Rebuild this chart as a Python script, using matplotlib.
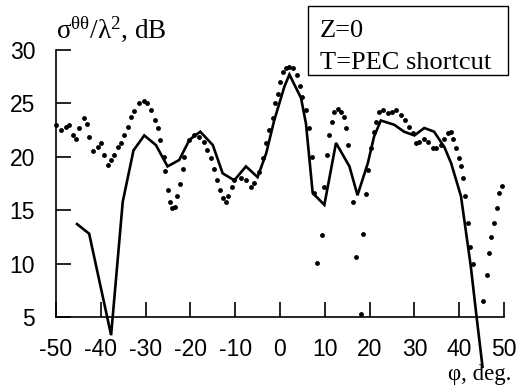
import matplotlib
matplotlib.use("Agg")
import matplotlib.pyplot as plt
from matplotlib.patches import Rectangle

# solid curve
phi_solid = [-45.3, -42.6, -37.7, -35.1, -32.7, -30.3, -27.7, -25.1, -22.5, -20.2,
             -17.8, -15.0, -12.8, -10.2, -7.6, -5.0, -3.1, -1.3, 1.0, 2.1,
             4.7, 5.8, 7.3, 9.9, 12.5, 15.5, 17.3, 19.6, 21.0, 22.5,
             25.5, 27.7, 30.0, 32.2, 34.4, 36.7, 38.2, 40.4, 42.6, 43.8, 45.2]
rcs_solid = [13.7, 12.8, 3.3, 15.8, 20.6, 22.0, 21.1, 19.1, 19.7, 21.6,
             22.35, 21.1, 18.45, 17.8, 19.1, 18.1, 20.3, 23.4, 26.6, 27.7,
             25.5, 23.1, 16.6, 15.5, 21.3, 19.1, 16.4, 19.4, 21.9, 23.4,
             23.0, 22.35, 22.0, 22.7, 22.35, 20.9, 19.4, 16.3, 9.7, 5.3, 0.35]

# dotted curve (single dots)
phi_dots = [-50.0, -48.9, -47.8, -47.0, -46.3, -45.5, -44.8, -43.8, -43.1, -42.6,
            -41.8, -40.7, -40.0, -39.2, -38.5, -37.7, -37.0, -36.2, -35.5, -34.8,
            -34.0, -33.3, -32.5, -31.4, -30.3, -29.6, -28.8, -27.8, -27.3, -26.7,
            -26.0, -25.6, -25.1, -24.6, -24.0, -23.4, -22.9, -22.3, -21.7, -21.4,
            -20.4, -19.1, -18.0, -16.9, -16.2, -15.4, -14.7, -14.1, -13.5, -12.8,
            -12.1, -11.5, -10.8, -10.2, -8.7, -7.6, -6.5, -5.7, -4.6, -3.9,
            -3.1, -2.4, -1.6, -1.1, -0.5, 0.1, 0.6, 1.3, 2.1, 3.0,
            3.7, 4.5, 5.0, 5.8, 6.5, 7.1, 7.7, 8.3, 9.4, 9.9,
            10.4, 11.0, 11.5, 12.1, 12.9, 13.6, 14.2, 14.7, 15.2, 16.4,
            17.0, 18.1, 18.5, 19.1, 19.6, 20.3, 21.0, 21.4, 22.2, 22.9,
            24.0, 25.1, 26.0, 27.0, 27.9, 28.9, 29.6, 30.4, 31.1, 32.1,
            33.1, 34.1, 34.8, 35.9, 36.7, 37.4, 38.2, 38.7, 39.3, 39.9,
            40.4, 40.8, 41.4, 41.9, 42.4, 43.0, 45.3, 46.2, 46.7, 47.2,
            47.8, 48.4, 48.9, 49.5]
rcs_dots = [23.0, 22.5, 22.8, 23.0, 22.0, 21.7, 22.7, 23.6, 23.1, 21.9,
            20.5, 20.9, 21.3, 20.2, 19.2, 19.7, 20.2, 20.9, 21.3, 22.0,
            22.8, 23.75, 24.3, 25.0, 25.2, 25.0, 24.4, 23.4, 22.7, 21.6,
            20.0, 18.7, 16.9, 15.8, 15.2, 15.3, 16.3, 17.45, 18.9, 20.0,
            21.6, 22.0, 21.9, 21.4, 20.6, 19.9, 18.9, 17.8, 16.9, 16.1,
            15.8, 16.3, 17.2, 17.8, 18.0, 17.8, 17.2, 17.5, 18.6, 19.9,
            21.3, 22.5, 23.6, 25.0, 25.9, 27.0, 27.9, 28.3, 28.4, 28.3,
            27.7, 26.6, 25.6, 24.4, 22.7, 20.0, 16.6, 10.1, 12.7, 17.2,
            20.2, 22.0, 23.3, 24.2, 24.5, 24.2, 23.75, 22.7, 21.1, 15.8,
            10.6, 5.25, 12.8, 16.5, 18.8, 20.8, 22.35, 23.3, 24.2, 24.4,
            24.1, 24.2, 24.4, 23.9, 23.4, 22.8, 22.2, 21.3, 21.4, 21.7,
            21.4, 20.8, 20.8, 21.1, 21.7, 22.2, 22.35, 21.7, 20.8, 19.9,
            19.1, 18.0, 16.3, 13.8, 11.6, 10.0, 6.5, 8.9, 11.0, 12.5,
            13.8, 15.2, 16.6, 17.3]

x_ticks = [-50, -40, -30, -20, -10, 0, 10, 20, 30, 40, 50]
y_ticks = [5, 10, 15, 20, 25, 30]

plt.rcParams["axes.unicode_minus"] = False
plt.rcParams["font.family"] = "Liberation Sans"

fig = plt.figure(figsize=(5.29, 3.89), dpi=100)
ax = fig.add_axes([56 / 529, 1 - 317 / 389, 448 / 529, 267 / 389])

ax.plot(phi_solid, rcs_solid, color="black", linewidth=1.9, clip_on=False,
        solid_joinstyle="miter")
ax.plot(phi_dots, rcs_dots, "o", color="black", markersize=3.5,
        markeredgewidth=0, clip_on=False)

ax.set_xlim(-50, 50)
ax.set_ylim(5, 30)
ax.set_xticks(x_ticks)
ax.set_yticks(y_ticks)
ax.set_xticklabels([str(v) for v in x_ticks])
ax.set_yticklabels([str(v) for v in y_ticks])

for side in ["top", "right"]:
    ax.spines[side].set_visible(False)
for side in ["left", "bottom"]:
    ax.spines[side].set_linewidth(1.2)

ax.tick_params(axis="both", direction="in", length=11, width=1.2,
               labelsize=16.5, colors="black")
ax.tick_params(axis="x", pad=15)
ax.tick_params(axis="y", pad=15)

# axis captions
ax.text(0.0, 1.045, r"$\mathregular{\sigma^{\theta\theta}/\lambda^2}$, dB",
        transform=ax.transAxes, ha="left", va="baseline",
        family="Liberation Serif", fontsize=19.5)
fig.text(448 / 529, 1 - 380 / 389, "φ, deg.", ha="left", va="baseline",
         family="Liberation Serif", fontsize=16.5)

# box with case description
fig.patches.append(Rectangle((308 / 529, 1 - 75 / 389), 200 / 529, 69 / 389,
                             transform=fig.transFigure, fill=False,
                             edgecolor="black", linewidth=1.0))
fig.text(320 / 529, 1 - 37 / 389, "Z=0", ha="left", va="baseline",
         family="Liberation Serif", fontsize=19)
fig.text(320 / 529, 1 - 69 / 389, "T=PEC shortcut", ha="left", va="baseline",
         family="Liberation Serif", fontsize=19)

fig.savefig("out.png", dpi=100)
